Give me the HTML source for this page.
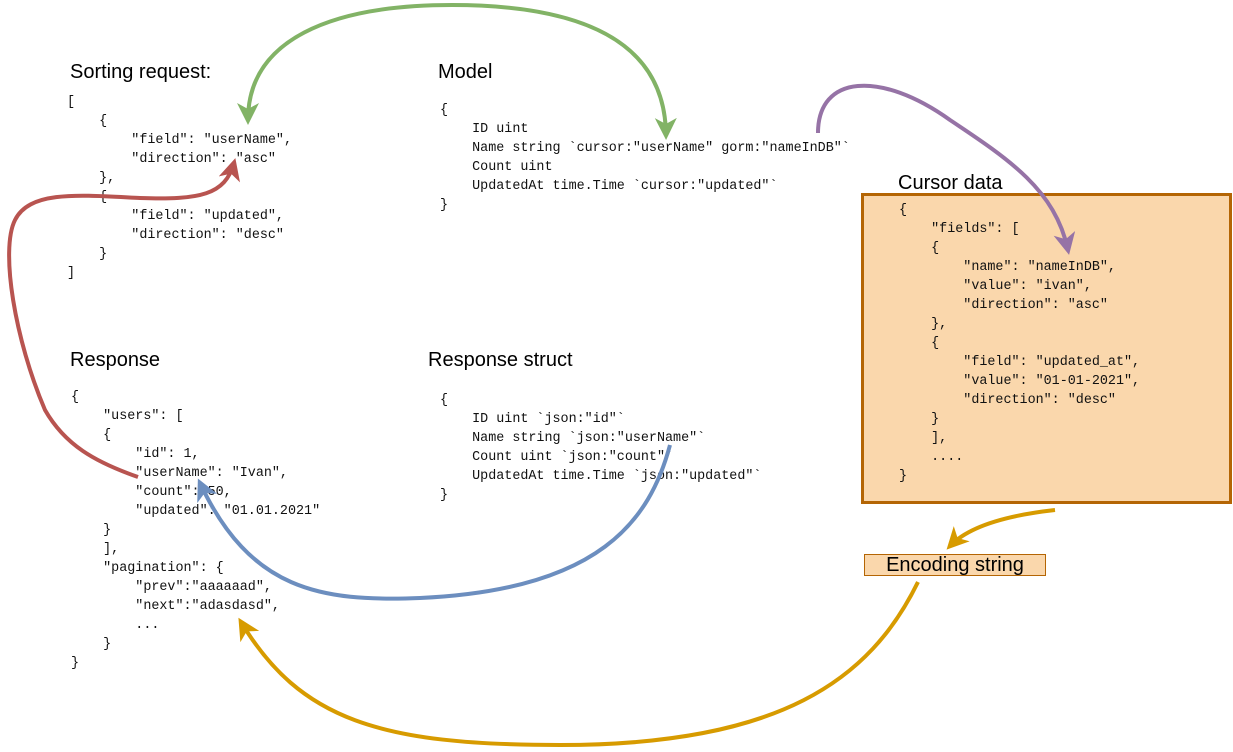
<!DOCTYPE html>
<html><head><meta charset="utf-8"><style>
html,body{margin:0;padding:0;background:#fff;}
body{width:1233px;height:752px;position:relative;overflow:hidden;}
.t{position:absolute;font-family:"Liberation Sans",Arial,sans-serif;font-size:20px;color:#000;white-space:nowrap;line-height:20px;}
pre{position:absolute;margin:0;font-family:"Liberation Mono","Courier New",monospace;font-size:13.4px;line-height:19px;color:#111;}
#cbox{position:absolute;left:861px;top:193px;width:365px;height:305px;background:#fad7ac;border:3px solid #b46504;}
#enc{position:absolute;left:864px;top:554px;width:180px;height:20px;background:#fad7ac;border:1px solid #b46504;font-family:"Liberation Sans",Arial,sans-serif;font-size:20px;text-align:center;line-height:20px;}
svg{position:absolute;left:0;top:0;}
</style></head><body>
<div class="t" style="left:70px;top:62px">Sorting request:</div>
<pre style="left:67px;top:93px">[
    {
        "field": "userName",
        "direction": "asc"
    },
    {
        "field": "updated",
        "direction": "desc"
    }
]</pre>
<div class="t" style="left:438px;top:62px">Model</div>
<pre style="left:440px;top:101px">{
    ID uint
    Name string `cursor:"userName" gorm:"nameInDB"`
    Count uint
    UpdatedAt time.Time `cursor:"updated"`
}</pre>
<div id="cbox"></div>
<div class="t" style="left:898px;top:173px">Cursor data</div>
<pre style="left:899px;top:201px">{
    "fields": [
    {
        "name": "nameInDB",
        "value": "ivan",
        "direction": "asc"
    },
    {
        "field": "updated_at",
        "value": "01-01-2021",
        "direction": "desc"
    }
    ],
    ....
}</pre>
<div id="enc">Encoding string</div>
<div class="t" style="left:70px;top:350px">Response</div>
<pre style="left:71px;top:388px">{
    "users": [
    {
        "id": 1,
        "userName": "Ivan",
        "count": 50,
        "updated": "01.01.2021"
    }
    ],
    "pagination": {
        "prev":"aaaaaad",
        "next":"adasdasd",
        ...
    }
}</pre>
<div class="t" style="left:428px;top:350px">Response struct</div>
<pre style="left:440px;top:391px">{
    ID uint `json:"id"`
    Name string `json:"userName"`
    Count uint `json:"count"`
    UpdatedAt time.Time `json:"updated"`
}</pre>
<svg width="1233" height="752" viewBox="0 0 1233 752">
<defs>
<marker id="mg" markerUnits="userSpaceOnUse" markerWidth="24" markerHeight="24" refX="17" refY="11" orient="auto-start-reverse"><path d="M0,0 L22,11 L0,22 L6,11 z" fill="#82b366"/></marker>
<marker id="mp" markerUnits="userSpaceOnUse" markerWidth="24" markerHeight="24" refX="17" refY="11" orient="auto"><path d="M0,0 L22,11 L0,22 L6,11 z" fill="#9673a6"/></marker>
<marker id="mr" markerUnits="userSpaceOnUse" markerWidth="24" markerHeight="24" refX="17" refY="11" orient="auto"><path d="M0,0 L22,11 L0,22 L6,11 z" fill="#b85450"/></marker>
<marker id="mb" markerUnits="userSpaceOnUse" markerWidth="24" markerHeight="24" refX="17" refY="11" orient="auto"><path d="M0,0 L22,11 L0,22 L6,11 z" fill="#6c8ebf"/></marker>
<marker id="mo" markerUnits="userSpaceOnUse" markerWidth="24" markerHeight="24" refX="17" refY="11" orient="auto"><path d="M0,0 L22,11 L0,22 L6,11 z" fill="#d79b00"/></marker>
</defs>
<g fill="none" stroke-width="4">
<path d="M248,120 C248,40 330,5 452,5 C580,5 665,40 666,135" stroke="#82b366" marker-start="url(#mg)" marker-end="url(#mg)"/>
<path d="M818,133 C818,75 880,70 950,120 C1010,160 1055,190 1068,250" stroke="#9673a6" marker-end="url(#mp)"/>
<path d="M138,477 C95,462 65,445 45,410 C15,340 0,250 15,220 C30,190 80,195 140,198 C200,200 225,195 234,163" stroke="#b85450" marker-end="url(#mr)"/>
<path d="M670,445 C650,520 600,590 420,598 C320,602 250,590 200,483" stroke="#6c8ebf" marker-end="url(#mb)"/>
<path d="M1055,510 C1010,515 970,525 950,546" stroke="#d79b00" marker-end="url(#mo)"/>
<path d="M918,582 C870,680 780,745 560,745 C380,745 300,720 241,622" stroke="#d79b00" marker-end="url(#mo)"/>
</g>
</svg>
</body></html>
